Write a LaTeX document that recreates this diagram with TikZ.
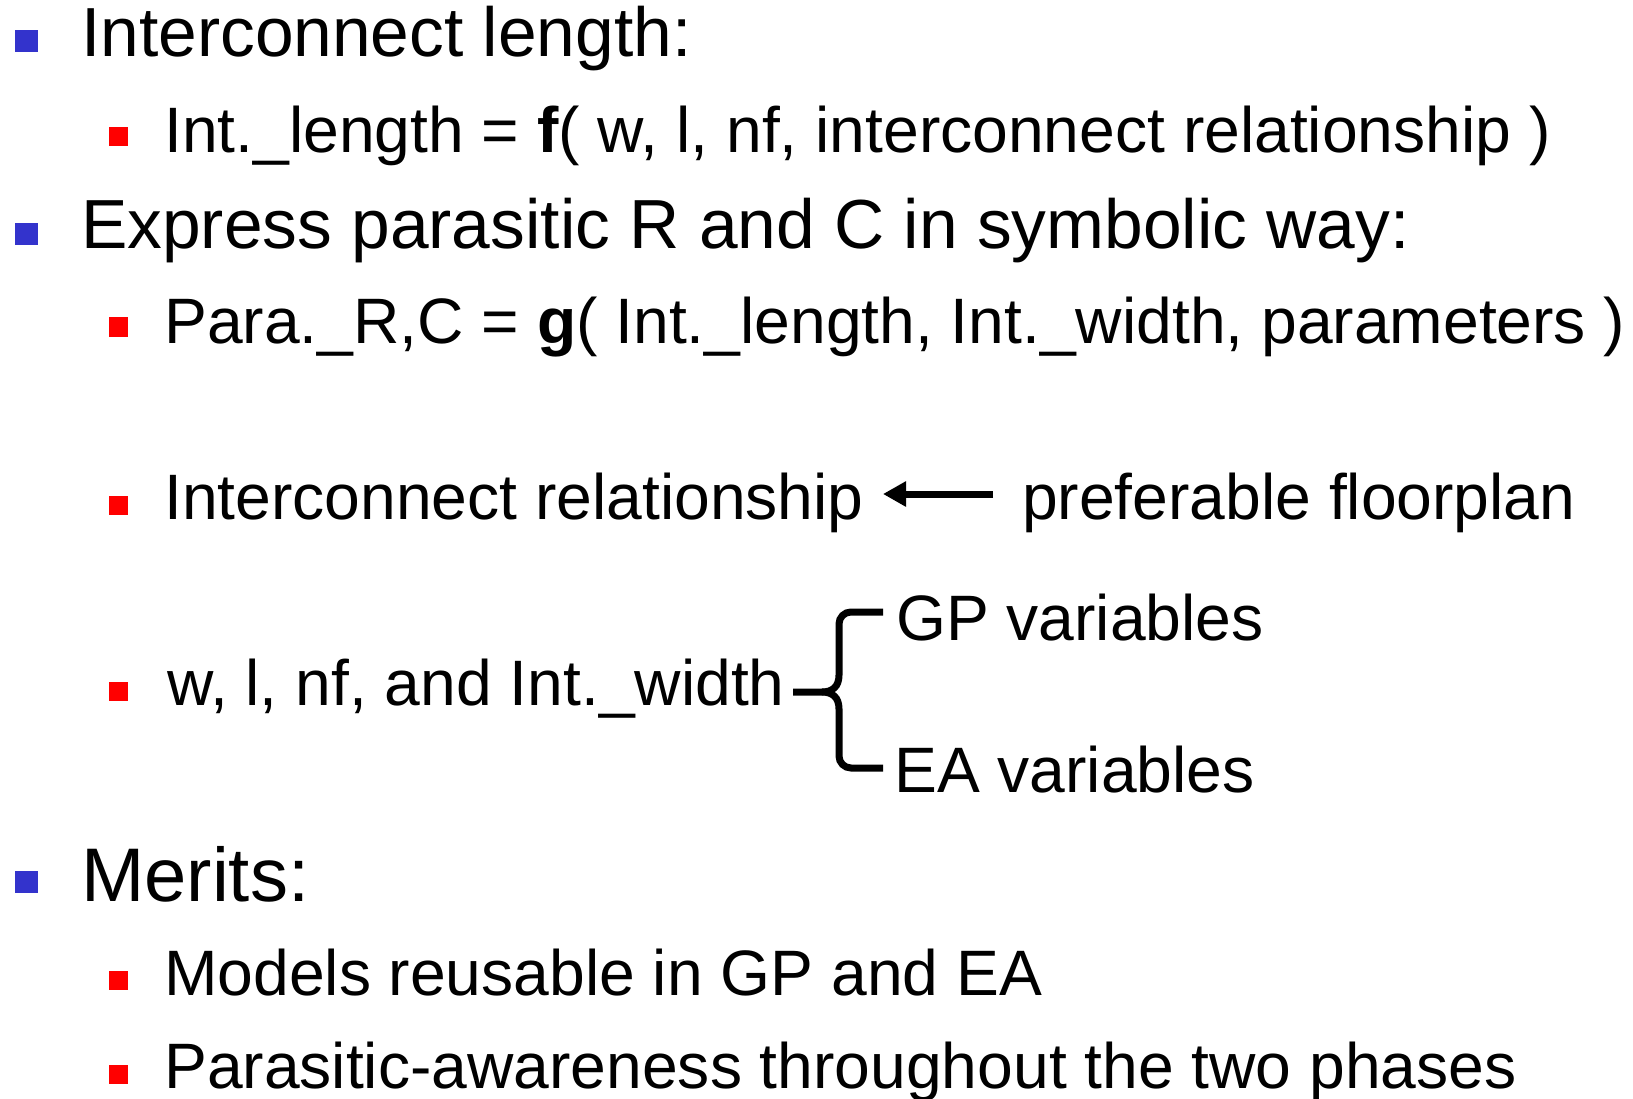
\documentclass[tikz,border=0pt]{standalone}
\usepackage{fontspec}
\setmainfont{Liberation Sans}
\usetikzlibrary{arrows.meta}
\definecolor{bblue}{RGB}{51,51,204}
\definecolor{bred}{RGB}{255,0,0}
\begin{document}
\begin{tikzpicture}[x=1pt,y=1pt,
  lvlone/.style={anchor=base west,inner sep=0pt,font=\fontsize{69.5}{80}\selectfont},
  lvltwo/.style={anchor=base west,inner sep=0pt,font=\fontsize{64.2}{74}\selectfont},
  bluebul/.style={fill=bblue,draw=none,minimum width=23pt,minimum height=22pt,inner sep=0pt},
  redbul/.style={fill=bred,draw=none,minimum width=19pt,minimum height=19pt,inner sep=0pt},
  bigarrow/.style={line width=7pt,-{Triangle[length=23pt,width=24pt]}},
  bracepath/.style={line width=7pt}]
\useasboundingbox (0,0) rectangle (1633,-1099);
\clip (0,0) rectangle (1633,-1099);
% level one bullets
\node[bluebul] (b1) at (26,-41.5) {};
\node[bluebul] (b3) at (26,-234) {};
\node[bluebul] (b9) at (26,-882) {};
% level two bullets
\node[redbul] (b2) at (118,-136.5) {};
\node[redbul] (b4) at (118,-327) {};
\node[redbul] (b5) at (118,-505) {};
\node[redbul] (b7) at (118,-691) {};
\node[redbul] (b10) at (118,-980) {};
\node[redbul] (b11) at (118,-1074) {};
% texts
\node[lvlone] (t1) at (81,-57) {Interconnect length:};
\node[lvltwo] (t2) at (164,-153) {Int.\_length = \textbf{f}( w, l, nf, interconnect relationship )};
\node[lvlone] (t3) at (81,-248.5) {Express parasitic R and C in symbolic way:};
\node[lvltwo] (t4) at (164,-344) {Para.\_R,C = \textbf{g}( Int.\_length, Int.\_width, parameters )};
\node[lvltwo] (t5) at (164,-519) {Interconnect relationship};
\node[lvltwo] (t5b) at (1022,-519) {preferable floorplan};
\node[lvltwo] (t7) at (167,-705) {w, l, nf, and Int.\_width};
\node[lvltwo] (gp) at (896,-640) {GP variables};
\node[lvltwo] (ea) at (894,-792) {EA variables};
\node[lvlone,font=\fontsize{76}{86}\selectfont] (t9) at (81,-901) {Merits:};
\node[lvltwo] (t10) at (164,-995) {Models reusable in GP and EA};
\node[lvltwo] (t11) at (164,-1088) {Parasitic-awareness throughout the two phases};
% arrow
\coordinate (atail) at (993,-494);
\coordinate (ahead) at (883,-494);
\draw[bigarrow] (atail) -- (ahead);
% brace
\coordinate (btip) at (793,-692);
\coordinate (btop) at (883,-612);
\coordinate (bbot) at (883,-768);
\draw[bracepath] (btop) -- (851,-612) to[out=180,in=90] (839,-624) -- (839,-675)
  .. controls (839,-687) and (832,-692) .. (822,-692) -- (btip);
\draw[bracepath] (822,-692) .. controls (832,-692) and (839,-697) .. (839,-709)
  -- (839,-756) to[out=-90,in=180] (851,-768) -- (bbot);
\end{tikzpicture}
\end{document}
